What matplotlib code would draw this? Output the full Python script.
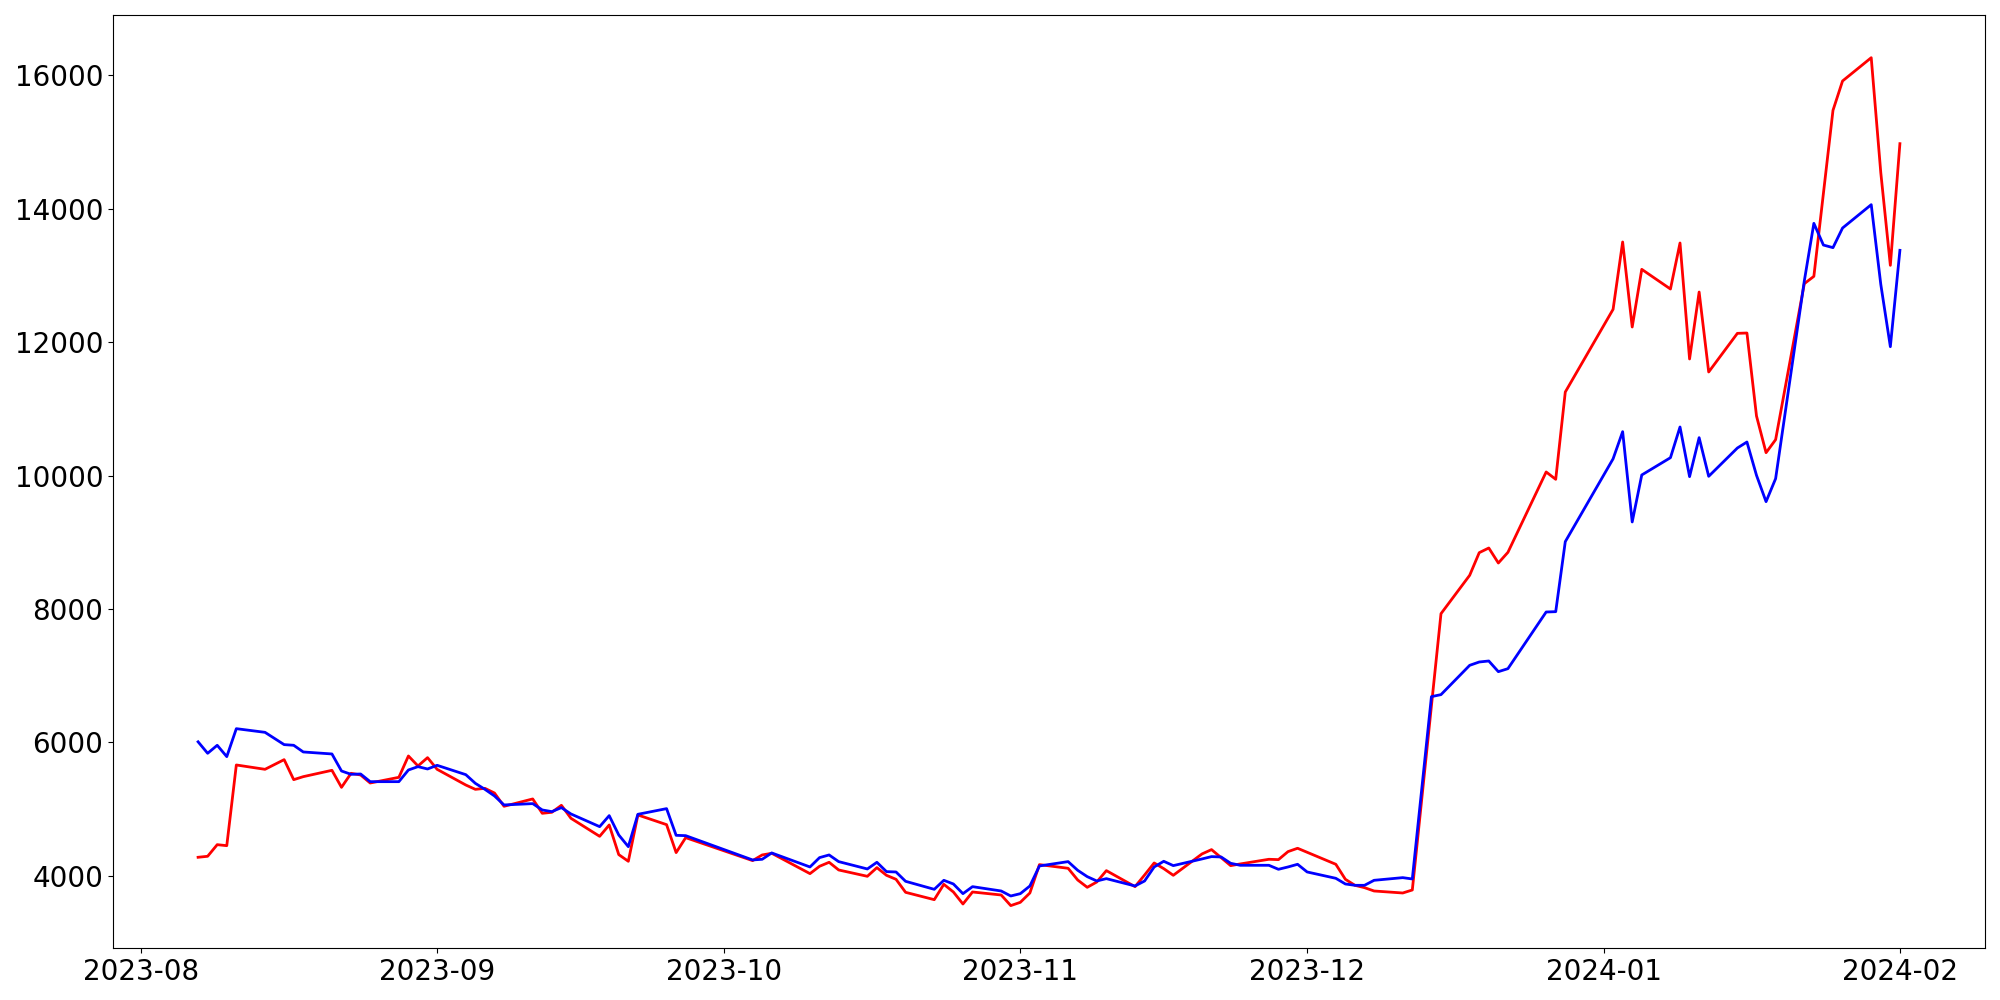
import matplotlib
matplotlib.use("Agg")
import matplotlib.pyplot as plt
import pandas as pd

dates = [
    "2023-08-07", "2023-08-08", "2023-08-09", "2023-08-10", "2023-08-11", "2023-08-14", "2023-08-16",
    "2023-08-17", "2023-08-18", "2023-08-21", "2023-08-22", "2023-08-23", "2023-08-24", "2023-08-25",
    "2023-08-28", "2023-08-29", "2023-08-30", "2023-08-31",
    "2023-09-01", "2023-09-04", "2023-09-05", "2023-09-06", "2023-09-07", "2023-09-08", "2023-09-11",
    "2023-09-12", "2023-09-13", "2023-09-14", "2023-09-15", "2023-09-18", "2023-09-19", "2023-09-20",
    "2023-09-21", "2023-09-22", "2023-09-25", "2023-09-26", "2023-09-27",
    "2023-10-04", "2023-10-05", "2023-10-06", "2023-10-10", "2023-10-11", "2023-10-12", "2023-10-13",
    "2023-10-16", "2023-10-17", "2023-10-18", "2023-10-19", "2023-10-20", "2023-10-23", "2023-10-24",
    "2023-10-25", "2023-10-26", "2023-10-27", "2023-10-30", "2023-10-31",
    "2023-11-01", "2023-11-02", "2023-11-03", "2023-11-06", "2023-11-07", "2023-11-08", "2023-11-09",
    "2023-11-10", "2023-11-13", "2023-11-14", "2023-11-15", "2023-11-16", "2023-11-17", "2023-11-20",
    "2023-11-21", "2023-11-22", "2023-11-23", "2023-11-24", "2023-11-27", "2023-11-28", "2023-11-29",
    "2023-11-30",
    "2023-12-01", "2023-12-04", "2023-12-05", "2023-12-06", "2023-12-07", "2023-12-08", "2023-12-11",
    "2023-12-12", "2023-12-13", "2023-12-14", "2023-12-15", "2023-12-18", "2023-12-19", "2023-12-20",
    "2023-12-21", "2023-12-22", "2023-12-26", "2023-12-27", "2023-12-28",
    "2024-01-02", "2024-01-03", "2024-01-04", "2024-01-05", "2024-01-08", "2024-01-09", "2024-01-10",
    "2024-01-11", "2024-01-12", "2024-01-15", "2024-01-16", "2024-01-17", "2024-01-18", "2024-01-19",
    "2024-01-22", "2024-01-23", "2024-01-24", "2024-01-25", "2024-01-26", "2024-01-29", "2024-01-30",
    "2024-01-31", "2024-02-01",
]

red_values = [
    4280, 4295, 4469, 4454, 5663, 5598, 5743, 5443, 5488, 5583, 5328, 5538, 5513, 5393,
    5478, 5798, 5648, 5773,
    5598, 5363, 5298, 5313, 5243, 5044, 5154, 4939, 4954, 5059, 4864, 4594, 4764, 4320,
    4220, 4914, 4769, 4350, 4574,
    4230, 4315, 4340, 4035, 4145, 4205, 4090, 3995, 4125, 4010, 3950, 3755, 3645, 3875,
    3760, 3580, 3760, 3715, 3556,
    3605, 3745, 4170, 4115, 3940, 3830, 3910, 4080, 3840, 4015, 4195, 4110, 4010, 4330,
    4395, 4275, 4155, 4180, 4250, 4245, 4365, 4415,
    4355, 4175, 3950, 3860, 3825, 3775, 3745, 3790, 5170, 6550, 7930, 8505, 8844, 8914,
    8689, 8849, 10053, 9943, 11251,
    12490, 13499, 12225, 13089, 12794, 13484, 11746, 12749, 11551, 12130, 12135, 10892, 10342, 10537,
    12874, 12984, 14228, 15471, 15911, 16260, 14537, 13149, 14972,
]

blue_values = [
    6010, 5838, 5958, 5788, 6207, 6152, 5968, 5958, 5858, 5828, 5573, 5523, 5528, 5413,
    5413, 5588, 5638, 5603,
    5658, 5518, 5388, 5298, 5199, 5064, 5084, 4989, 4964, 5024, 4929, 4739, 4904, 4614,
    4439, 4924, 5009, 4609, 4604,
    4240, 4250, 4345, 4135, 4275, 4315, 4215, 4105, 4205, 4065, 4060, 3920, 3800, 3935,
    3880, 3735, 3840, 3775, 3700,
    3735, 3850, 4150, 4215, 4085, 3990, 3925, 3960, 3850, 3925, 4135, 4220, 4155, 4255,
    4290, 4285, 4190, 4160, 4160, 4100, 4135, 4175,
    4060, 3965, 3880, 3860, 3860, 3935, 3975, 3955, 5320, 6687, 6717, 7156, 7206, 7221,
    7061, 7106, 7955, 7960, 9009,
    10250, 10657, 9304, 10008, 10267, 10727, 9983, 10567, 9988, 10412, 10502, 10003, 9608, 9953,
    12914, 13778, 13453, 13414, 13708, 14058, 12864, 11930, 13374,
]

x = pd.to_datetime(dates)

fig = plt.figure(figsize=(20, 10), dpi=100)
ax = fig.add_axes([0.0565, 0.052, 0.936, 0.9327])
ax.plot(x, red_values, color="red", linewidth=2)
ax.plot(x, blue_values, color="blue", linewidth=2)
ax.tick_params(axis="both", labelsize=20)

fig.savefig("out.png", dpi=100)
